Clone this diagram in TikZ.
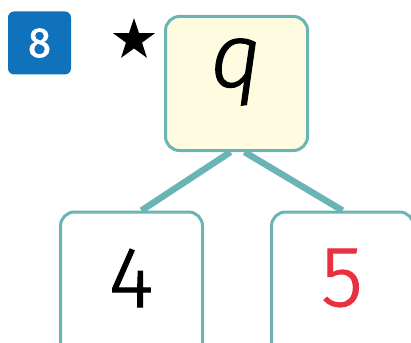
\documentclass[tikz,border=0pt]{standalone}
\usepackage{fontspec}
\setmainfont{Fira Sans}
\newfontfamily\bigfont[FakeBold=1.2]{Fira Sans Light}
\newfontfamily\bigitfont[FakeBold=1.2]{Fira Sans Light Italic}
\newfontfamily\badgefont[FakeBold=1.6]{Fira Sans}
\usetikzlibrary{shapes.geometric, backgrounds}
\definecolor{tealline}{HTML}{6AB4B6}
\definecolor{paleyellow}{HTML}{FEFBE1}
\definecolor{badgeblue}{HTML}{1072BA}
\definecolor{numred}{HTML}{E8303F}
\begin{document}
\begin{tikzpicture}[
    x=1pt, y=-1pt,
    cell/.style={draw=tealline, line width=3pt, rounded corners=14pt,
                 minimum width=142pt, minimum height=134pt, inner sep=0pt},
    whole/.style={cell, fill=paleyellow},
    part/.style={cell, fill=white, minimum height=150pt},
    badge/.style={fill=badgeblue, rounded corners=6pt, minimum size=63pt,
                  inner sep=0pt, text=white, font=\fontsize{42}{42}\badgefont},
    branch/.style={tealline, line width=6.5pt},
    digit/.style={font=\fontsize{86}{86}\bigfont},
]
\useasboundingbox (0,0) rectangle (411,342);
\clip (0,0) rectangle (411,342);
\node[badge] (num) at (39.5,43) {8};
\node[star, star points=5, star point ratio=2.6, fill=black, minimum size=44pt,
      inner sep=0pt] (hard) at (134,40) {};
\node[whole] (top) at (236.5,83.5) {};
\node[font=\fontsize{90}{90}\bigitfont] (q) at (236,72) {q};
\node[part] (left) at (131.5,287) {};
\node[part] (right) at (342.5,287) {};
\node[digit] (four) at (131,278) {4};
\node[digit, text=numred] (five) at (342,278) {5};
% branches sit behind the boxes
\begin{scope}[on background layer]
\draw[branch] ([xshift=-6pt]top.south) -- ([xshift=10pt]left.north);
\draw[branch] ([xshift=8pt]top.south) -- (right.north);
\end{scope}
\end{tikzpicture}
\end{document}
